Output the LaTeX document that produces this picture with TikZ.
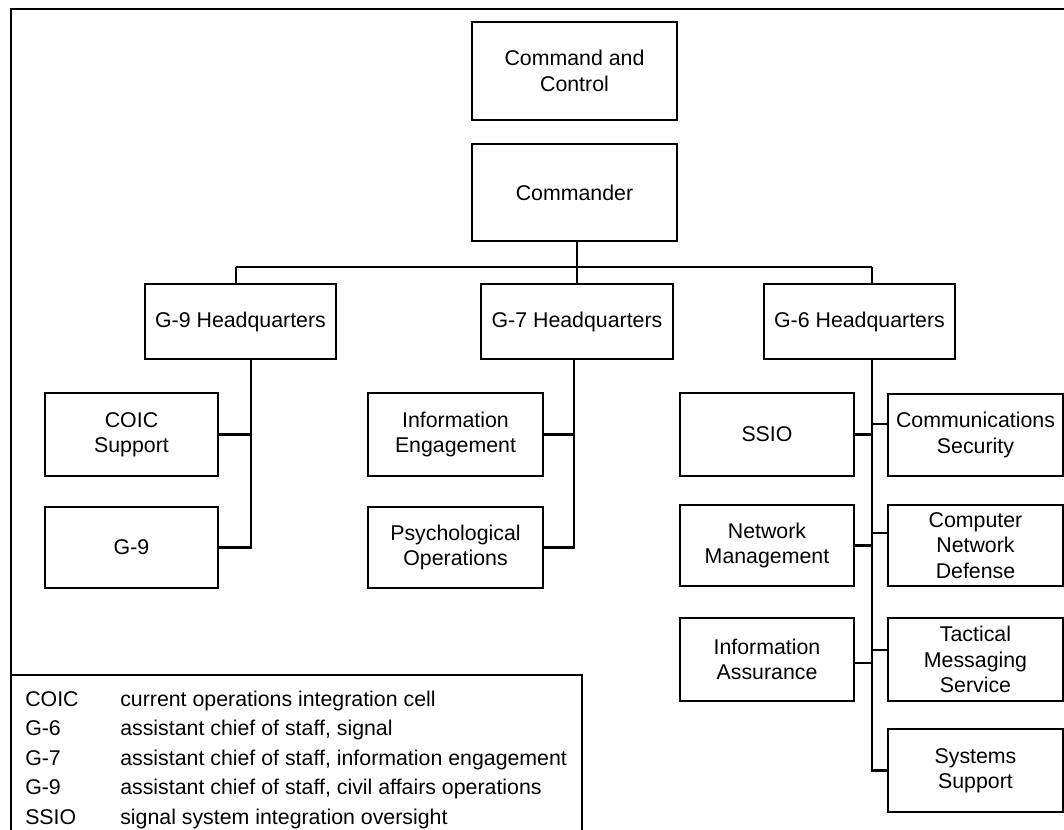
\documentclass[tikz,border=0pt]{standalone}
\usepackage{fontspec}
\setmainfont{Liberation Sans}
\begin{document}
\begin{tikzpicture}[x=0.75pt,y=-0.75pt,
  box/.style={draw, line width=1.8pt, align=center, inner sep=0pt,
    font=\fontsize{16}{19}\selectfont},
  link/.style={line width=1.8pt},
  frame/.style={line width=2.2pt},
  legend/.style={anchor=base west, inner sep=0pt, font=\fontsize{16}{19}\selectfont}]
\useasboundingbox (0,0) rectangle (1064,830);
\clip (0,0) rectangle (1064,830);

% box given by its corners: name, x1, y1, x2, y2, text
\newcommand\orgbox[6]{%
  \node[box, minimum width={(#4-#2)*0.75pt}, minimum height={(#5-#3)*0.75pt}]
    (#1) at ({(#2+#4)/2},{(#3+#5)/2}) {#6};}

% outer frame
\draw[frame] (11,860) -- (11,9) -- (1090,9);

% boxes
\orgbox{cc}{472}{22}{677}{120}{Command and\\Control}
\orgbox{cmd}{472}{144}{677}{241}{Commander}
\orgbox{g9}{145}{284}{336}{359}{G-9 Headquarters}
\orgbox{g7}{481}{284}{673}{359}{G-7 Headquarters}
\orgbox{g6}{764}{284}{955}{359}{G-6 Headquarters}
\orgbox{coic}{45}{393}{218}{476}{COIC\\Support}
\orgbox{gnine}{45}{507}{218}{588}{G-9}
\orgbox{ie}{368}{393}{543}{476}{Information\\Engagement}
\orgbox{po}{368}{507}{543}{588}{Psychological\\Operations}
\orgbox{ssio}{680}{393}{854}{476}{SSIO}
\orgbox{cs}{888}{394}{1063}{476}{Communications\\Security}
\orgbox{nm}{680}{505}{854}{586}{Network\\Management}
\orgbox{cnd}{888}{505}{1063}{586}{Computer\\Network\\Defense}
\orgbox{ia}{680}{618}{854}{701}{Information\\Assurance}
\orgbox{tms}{888}{618}{1063}{701}{Tactical\\Messaging\\Service}
\orgbox{ss}{888}{729}{1063}{812}{Systems\\Support}

% bus below the commander
\coordinate (d9) at (236,267);
\coordinate (j) at (577,267);
\coordinate (d6) at (872,267);
\draw[link] (d9) -- (d6);
\draw[link] (j |- cmd.south) -- (j |- g7.north);
\draw[link] (d9) -- (d9 |- g9.north);
\draw[link] (d6) -- (d6 |- g6.north);

% G-9 branch
\coordinate (s9) at (251,0);
\draw[link] (s9 |- g9.south) -- (s9 |- gnine.east) -- (gnine.east);
\draw[link] (coic.east) -- (s9 |- coic.east);

% G-7 branch
\coordinate (s7) at (574,0);
\draw[link] (s7 |- g7.south) -- (s7 |- po.east) -- (po.east);
\draw[link] (ie.east) -- (s7 |- ie.east);

% G-6 branch
\draw[link] (d6 |- g6.south) -- (d6 |- ss.west) -- (ss.west);
\draw[link] (ssio.east) -- (d6 |- ssio.east);
\draw[link] (nm.east) -- (d6 |- nm.east);
\draw[link] ([yshift=-2.6pt]ia.east) -- ([yshift=-2.6pt]d6 |- ia.east);
\draw[link] ([yshift=8.25pt]cs.west) -- ([yshift=8.25pt]d6 |- cs.west);
\draw[link] ([yshift=9.4pt]cnd.west) -- ([yshift=9.4pt]d6 |- cnd.west);
\draw[link] ([yshift=7.1pt]tms.west) -- ([yshift=7.1pt]d6 |- tms.west);

% legend
\draw[link] (11,675) rectangle (582,860);
\node[legend] (a1) at (25,706) {COIC};
\node[legend] (b1) at (120,706) {current operations integration cell};
\node[legend] (a2) at (25,735.6) {G-6};
\node[legend] (b2) at (120,735.6) {assistant chief of staff, signal};
\node[legend] (a3) at (25,765.2) {G-7};
\node[legend] (b3) at (120,765.2) {assistant chief of staff, information engagement};
\node[legend] (a4) at (25,794.8) {G-9};
\node[legend] (b4) at (120,794.8) {assistant chief of staff, civil affairs operations};
\node[legend] (a5) at (25,824.4) {SSIO};
\node[legend] (b5) at (120,824.4) {signal system integration oversight};
\end{tikzpicture}
\end{document}
